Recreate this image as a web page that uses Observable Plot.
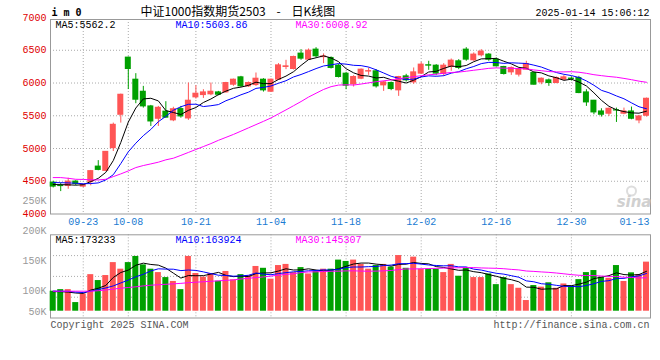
<!DOCTYPE html>
<html>
<head>
<meta charset="utf-8">
<script src="https://cdn.jsdelivr.net/npm/d3@7"></script>
<script src="https://cdn.jsdelivr.net/npm/@observablehq/plot@0.6"></script>
<style>
html, body { margin: 0; padding: 0; background: #fff; }
#chart { position: relative; width: 660px; height: 360px; overflow: hidden; background: #fff; }
#chart svg { position: absolute; left: 0; top: 0; }
</style>
</head>
<body>
<div id="chart"></div>
<script>
// ---------- data ----------
const dates = ["09-13","09-18","09-19","09-20","09-23","09-24","09-25","09-26","09-27","09-30",
  "10-08","10-09","10-10","10-11","10-14","10-15","10-16","10-17","10-18","10-21",
  "10-22","10-23","10-24","10-25","10-28","10-29","10-30","10-31","11-01","11-04",
  "11-05","11-06","11-07","11-08","11-11","11-12","11-13","11-14","11-15","11-18",
  "11-19","11-20","11-21","11-22","11-25","11-26","11-27","11-28","11-29","12-02",
  "12-03","12-04","12-05","12-06","12-09","12-10","12-11","12-12","12-13","12-16",
  "12-17","12-18","12-19","12-20","12-23","12-24","12-25","12-26","12-27","12-30",
  "12-31","01-02","01-03","01-06","01-07","01-08","01-09","01-10","01-13","01-14"];

const opens = [4480,4430,4428,4495,4418,4490,4724,4658,5005,5515,
  6388,6051,5867,5643,5454,5563,5430,5602,5459,5781,
  5816,5827,5857,5857,5974,6087,5949,5969,6051,5867,
  6051,6245,6214,6449,6357,6510,6395,6383,6265,6143,
  5980,6066,6175,6179,5964,6000,5888,6102,6010,6143,
  6272,6265,6138,6245,6332,6510,6347,6423,6434,6357,
  6245,6163,6128,6204,6153,6010,6041,6000,6051,6068,
  6077,5857,5730,5566,5531,5585,5531,5566,5429,5500];
const highs = [4500,4470,4546,4510,4455,4665,4815,4955,5388,5830,
  6395,6143,5949,5658,5643,5715,5630,5643,6000,5959,
  5898,6000,5872,6010,6060,6102,6015,6153,6066,6061,
  6296,6347,6410,6510,6520,6540,6444,6398,6281,6163,
  6112,6214,6230,6204,6026,6015,6102,6133,6230,6316,
  6332,6281,6296,6367,6357,6540,6460,6510,6449,6383,
  6255,6245,6230,6332,6163,6077,6061,6092,6112,6092,
  6102,5898,5735,5607,5617,5617,5617,5633,5505,5770];
const lows = [4398,4342,4378,4434,4405,4430,4660,4648,4954,5388,
  5900,5684,5617,5337,5337,5465,5410,5464,5429,5755,
  5765,5806,5806,5847,5950,5934,5934,5949,5862,5857,
  6041,6204,6200,6347,6347,6383,6296,6214,6077,5898,
  5939,6051,6117,5923,5872,5883,5796,6015,5980,6133,
  6194,6112,6102,6179,6204,6332,6332,6398,6332,6245,
  6122,6117,6092,6194,5969,5974,5949,5990,6041,6030,
  5837,5643,5515,5480,5490,5398,5515,5439,5378,5480];
const closes = [4418,4426,4495,4459,4440,4655,4673,4949,5362,5821,
  6214,5745,5643,5413,5622,5471,5600,5490,5730,5837,
  5857,5867,5821,6000,6051,5949,6000,6066,5888,6051,
  6270,6255,6398,6372,6495,6408,6405,6230,6092,5959,
  6092,6204,6182,5949,6010,5908,6092,6041,6163,6281,
  6265,6143,6265,6342,6230,6357,6434,6480,6357,6255,
  6138,6230,6214,6291,5974,6066,6000,6077,6087,6062,
  5847,5704,5551,5515,5607,5580,5566,5454,5490,5760];
const volumes = [86900,93800,93800,37500,75000,158900,133200,155000,211200,182600,
  211200,237900,201300,182600,167800,146100,129300,93800,237900,163800,
  148000,163800,130300,172700,136200,158900,155000,194400,186500,139200,
  198400,203300,167800,189500,161900,172700,182600,182600,222100,216200,
  222100,203300,182600,198400,203300,191500,241800,186500,234900,182600,
  182600,182600,167800,203300,152000,189500,146100,146100,161900,115500,
  146100,115500,99700,46400,111500,104600,123400,99700,118400,108600,
  137200,167800,176700,148000,143100,198400,129300,166800,158900,213200];

// moving-average values before a full window exists
const ma5Head  = [4450,4448,4446,4440];
const ma10Head = [4480,4478,4475,4470,4462,4465,4475,4520,4600];
const ma30Head = [4556,4556,4545,4530,4528,4522,4520,4530,4571,4612,4658,4709,4740,4765,4791,
  4827,4852,4895,4940,4985,5030,5075,5125,5170,5215,5265,5315,5365,5415];
const volMa5Head  = [85000,85000,83000,79000];
const volMa10Head = [87000,87000,86000,83000,81000,87000,94000,101000,110000];
const volMa30Head = [87000,87000,87000,87000,87000,87000,89000,92000,96000,100000,103000,106000,
  110000,113000,115000,117000,119000,121000,124000,126000,128000,130000,132000,134000,136000,
  140000,143000,146000,149000];

// labels
const titleText = "中证1000指数期货2503    -    日K线图";
const symbolText = "i m 0";
const timeText = "2025-01-14 15:06:12";
const priceMaTexts = ["MA5:5562.2", "MA10:5603.86", "MA30:6008.92"];
const volMaTexts = ["MA5:173233", "MA10:163924", "MA30:145307"];
const priceTicks = [4000, 4500, 5000, 5500, 6000, 6500, 7000];
const priceGrid = [4500, 5000, 5500, 6000, 6500];
const volTicks = [250000, 200000, 150000, 100000, 50000];
const gridDates = ["09-23","10-08","10-21","11-04","11-18","12-02","12-16","12-30"];
const lastDateLabel = "01-13";
const copyrightText = "Copyright 2025 SINA.COM";
const urlText = "http://finance.sina.com.cn";

// ---------- build ----------
const W = 660, H = 360;
const RED = "#ff5555", GREEN = "#00a000";
const MA_COLORS = ["#000000", "#0000ff", "#ff00ff"];
const mono = "'Liberation Mono', 'DejaVu Sans Mono', monospace";
const GRID = {stroke: "#aaaaaa", strokeDasharray: "1,2"};

const rows = dates.map((d, i) => ({
  date: d, open: opens[i], high: highs[i], low: lows[i], close: closes[i],
  volume: volumes[i], color: closes[i] >= opens[i] ? RED : GREEN
}));
const rolling = (vals, n, head) => vals.map((v, i) => i < n - 1 ? head[i] : d3.mean(vals.slice(i - n + 1, i + 1)));
const pMA = [rolling(closes, 5, ma5Head), rolling(closes, 10, ma10Head), rolling(closes, 30, ma30Head)];
const vMA = [rolling(volumes, 5, volMa5Head), rolling(volumes, 10, volMa10Head), rolling(volumes, 30, volMa30Head)];

const xScale = () => ({type: "band", domain: dates, range: [48.95, 649.75], paddingInner: 0.2, paddingOuter: 0.1, axis: null});
const baseStyle = {background: "transparent", overflow: "visible"};
const textBase = {fontFamily: mono, fontSize: 10};

// main price panel
const main = Plot.plot({
  width: W, height: H,
  marginLeft: 50, marginRight: 10, marginTop: 19, marginBottom: H - 213.5,
  style: baseStyle,
  x: xScale(),
  y: {domain: [4000, 6970], axis: null},
  color: {type: "identity"},
  marks: [
    Plot.ruleY(priceGrid, GRID),
    Plot.ruleX(gridDates, {x: d => d, ...GRID}),
    Plot.frame({stroke: "#999999"}),
    Plot.ruleX(rows, {x: "date", y1: "low", y2: "high", stroke: "color", strokeWidth: 1}),
    Plot.barY(rows, {x: "date", y1: "open", y2: "close", fill: "color", insetTop: -0.5, insetBottom: -0.5}),
    ...pMA.map((m, k) => Plot.lineY(rows, {x: "date", y: (d, i) => m[i], stroke: MA_COLORS[k], strokeWidth: 1})),
    Plot.axisY(priceTicks, {anchor: "left", tickSize: 0, tickPadding: 4, tickFormat: d => String(d), fill: "#e00000", ...textBase}),
    Plot.text(gridDates, {x: d => d, text: d => d, frameAnchor: "bottom", dy: 8.2, lineAnchor: "middle", fill: "#1a7bd2", ...textBase}),
    Plot.text([lastDateLabel], {x: d => d, text: d => d, frameAnchor: "bottom", dy: 8.2, dx: 10.5, textAnchor: "end", lineAnchor: "middle", fill: "#1a7bd2", ...textBase}),
    ...priceMaTexts.map((t, k) => Plot.text([t], {text: d => d, frameAnchor: "top-left", dx: 5 + 120 * k, dy: 5, textAnchor: "start", lineAnchor: "middle", fill: MA_COLORS[k], ...textBase})),
    Plot.text([symbolText], {text: d => d, frameAnchor: "top-left", dx: 1, dy: -7, textAnchor: "start", lineAnchor: "middle", fontWeight: "bold", fill: "#000", fontFamily: "'DejaVu Sans Mono', monospace", fontSize: 10}),
    Plot.text([titleText], {text: d => d, frameAnchor: "top-left", dx: 90, dy: -7, textAnchor: "start", lineAnchor: "middle", fill: "#000", fontFamily: "'Noto Sans CJK SC', sans-serif", fontSize: 12}),
    Plot.text([timeText], {text: d => d, frameAnchor: "top-right", dx: -1, dy: -7, textAnchor: "end", lineAnchor: "middle", fill: "#000", ...textBase}),
    Plot.dot(["logo"], {frameAnchor: "bottom-right", dx: -19, dy: -23, r: 4.5, stroke: "#dddddd", strokeWidth: 2, fill: "none"}),
    Plot.text(["sina"], {text: d => d, frameAnchor: "bottom-right", dx: 1, dy: -12, textAnchor: "end", lineAnchor: "middle", fill: "#d0d0d0", fontFamily: "'DejaVu Sans', sans-serif", fontWeight: "bold", fontStyle: "italic", fontSize: 15})
  ]
});

// volume panel
const vDomain = [-29500, 332000];
const volGrid = [1, 2, 3].map(k => vDomain[0] + (vDomain[1] - vDomain[0]) * k / 4);
const vol = Plot.plot({
  width: W, height: H,
  marginLeft: 50, marginRight: 10, marginTop: 234.3, marginBottom: H - 317.5,
  style: baseStyle,
  x: xScale(),
  y: {domain: vDomain, axis: null},
  color: {type: "identity"},
  marks: [
    Plot.ruleY(volGrid, GRID),
    Plot.ruleX(gridDates, {x: d => d, ...GRID}),
    Plot.frame({stroke: "#999999"}),
    Plot.barY(rows, {x: "date", y: "volume", fill: "color"}),
    ...vMA.map((m, k) => Plot.lineY(rows, {x: "date", y: (d, i) => m[i], stroke: MA_COLORS[k], strokeWidth: 1})),
    ...volMaTexts.map((t, k) => Plot.text([t], {text: d => d, frameAnchor: "top-left", dx: 5 + 120 * k, dy: 5, textAnchor: "start", lineAnchor: "middle", fill: MA_COLORS[k], ...textBase})),
    Plot.text([copyrightText], {text: d => d, frameAnchor: "bottom-left", dx: 0, dy: 7, textAnchor: "start", lineAnchor: "middle", fill: "#555", ...textBase}),
    Plot.text([urlText], {text: d => d, frameAnchor: "bottom-right", dx: -1, dy: 7, textAnchor: "end", lineAnchor: "middle", fill: "#555", ...textBase})
  ]
});

// volume axis labels as printed on the reference
const volAxis = Plot.plot({
  width: W, height: H,
  marginLeft: 50, marginRight: 10, marginTop: 200.5, marginBottom: H - 311,
  style: baseStyle,
  y: {domain: [66400, 250000], clamp: true, axis: null},
  marks: [
    Plot.axisY(volTicks, {anchor: "left", tickSize: 0, tickPadding: 4, tickFormat: d => (d / 1000) + "K", fill: "#999999", ...textBase})
  ]
});

const chart = document.getElementById("chart");
chart.append(main, vol, volAxis);
</script>
</body>
</html>
